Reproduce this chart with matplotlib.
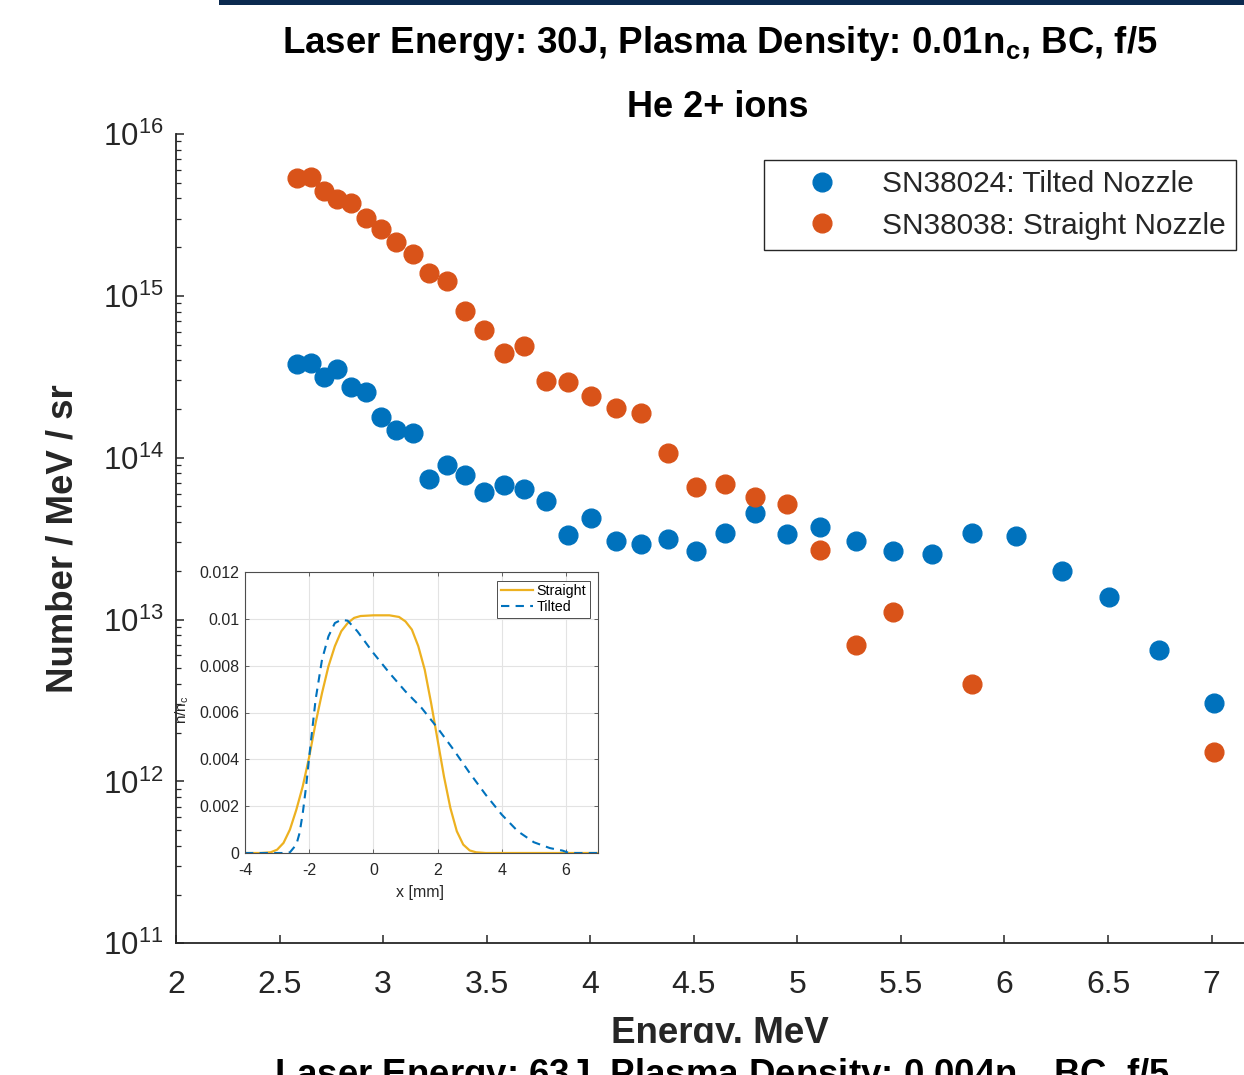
import numpy as np
import matplotlib
matplotlib.use('Agg')
import matplotlib.pyplot as plt
from matplotlib.patches import Rectangle
from matplotlib.ticker import LogLocator, NullFormatter

W, H = 1244, 1075
plt.rcParams['font.family'] = ['Liberation Sans', 'DejaVu Sans']
plt.rcParams['mathtext.fontset'] = 'custom'
plt.rcParams['mathtext.rm'] = 'Liberation Sans'
plt.rcParams['mathtext.it'] = 'Liberation Sans'
plt.rcParams['mathtext.bf'] = 'Liberation Sans:bold'
plt.rcParams['axes.unicode_minus'] = False

# ---------------- data ----------------
energy = [2.584, 2.652, 2.715, 2.777, 2.845, 2.917, 2.990, 3.062, 3.144, 3.222,
          3.309, 3.395, 3.487, 3.584, 3.680, 3.787, 3.893, 4.004, 4.125, 4.245,
          4.376, 4.511, 4.651, 4.796, 4.950, 5.110, 5.284, 5.462, 5.650, 5.844,
          6.056, 6.278, 6.505, 6.746, 7.012]

tilted = [3.78e14, 3.85e14, 3.14e14, 3.55e14, 2.75e14, 2.54e14, 1.78e14, 1.48e14, 1.43e14, 7.36e13,
          9.02e13, 7.79e13, 6.11e13, 6.75e13, 6.43e13, 5.42e13, 3.32e13, 4.26e13, 3.06e13, 2.93e13,
          3.13e13, 2.67e13, 3.41e13, 4.57e13, 3.36e13, 3.72e13, 3.06e13, 2.67e13, 2.54e13, 3.44e13,
          3.28e13, 2.00e13, 1.37e13, 6.46e12, 3.07e12]

straight = [5.33e15, 5.45e15, 4.44e15, 3.95e15, 3.73e15, 3.04e15, 2.58e15, 2.14e15, 1.81e15, 1.38e15,
            1.24e15, 8.09e14, 6.13e14, 4.45e14, 4.90e14, 2.99e14, 2.92e14, 2.40e14, 2.03e14, 1.90e14,
            1.065e14, 6.57e13, 6.85e13, 5.69e13, 5.18e13, 2.69e13, 6.97e12, 1.11e13, np.nan, 4.00e12,
            np.nan, np.nan, np.nan, np.nan, 1.51e12]

series_labels = ['SN38024: Tilted Nozzle', 'SN38038: Straight Nozzle']
x_ticks = [2, 2.5, 3, 3.5, 4, 4.5, 5, 5.5, 6, 6.5, 7]
x_ticklabels = ['2', '2.5', '3', '3.5', '4', '4.5', '5', '5.5', '6', '6.5', '7']

# inset density profiles
prof_x_straight = [-4.0, -3.5, -3.2, -3.0, -2.8, -2.6, -2.4, -2.2, -2.0, -1.8, -1.6, -1.4, -1.2,
                   -1.0, -0.8, -0.6, -0.4, 0.0, 0.5, 0.8, 1.0, 1.2, 1.4, 1.6, 1.8, 2.0, 2.2,
                   2.4, 2.6, 2.8, 3.0, 3.2, 3.5, 7.0]
prof_straight = [0.0, 0.0, 0.00003, 0.00014, 0.00043, 0.0010, 0.00185, 0.00285, 0.0041, 0.00555,
                 0.00683, 0.00797, 0.00883, 0.00947, 0.00982, 0.01004, 0.01012, 0.01015, 0.01015,
                 0.01008, 0.00989, 0.00954, 0.00883, 0.00783, 0.0064, 0.00484, 0.00327, 0.00192,
                 0.00093, 0.00036, 0.00011, 0.00003, 0.0, 0.0]
prof_x_tilted = [-4.0, -2.7, -2.6, -2.4, -2.3, -2.2, -2.1, -2.0, -1.8, -1.6, -1.4, -1.2, -1.0,
                 -0.8, -0.5, 0.0, 0.5, 1.0, 1.5, 2.0, 2.5, 3.0, 3.5, 4.0, 4.5, 5.0, 5.5, 5.9,
                 6.1, 7.0]
prof_tilted = [0.0, 0.0, 0.00003, 0.00036, 0.00085, 0.0017, 0.0028, 0.0041, 0.00655, 0.00826,
               0.00925, 0.00982, 0.00996, 0.00992, 0.00947, 0.00854, 0.00769, 0.0069, 0.0062,
               0.00534, 0.00441, 0.00342, 0.00249, 0.00164, 0.00093, 0.00046, 0.00021, 0.0001,
               0.0, 0.0]
inset_xticks = [-4, -2, 0, 2, 4, 6]
inset_yticks = [0, 0.002, 0.004, 0.006, 0.008, 0.010, 0.012]
inset_yticklabels = ['0', '0.002', '0.004', '0.006', '0.008', '0.01', '0.012']

BLUE = '#0072BD'
ORANGE = '#D95319'
YELLOW = '#EDB120'
AXC = '#262626'


def fx(px):
    return px / W


def fy(py):
    return 1 - py / H


fig = plt.figure(figsize=(W / 100, H / 100), dpi=100)
fig.patch.set_facecolor('white')

# ---------------- main axes ----------------
ax = fig.add_axes([fx(176), fy(943.3), (1253 - 176) / W, (943.3 - 134) / H], zorder=0)
ax.plot(energy, tilted, 'o', color=BLUE, ms=13.5, ls='none', label=series_labels[0])
ax.plot(energy, straight, 'o', color=ORANGE, ms=13.5, ls='none', label=series_labels[1])
ax.set_yscale('log')
ax.set_xlim(2, 7.2)
ax.set_ylim(1e11, 1e16)
ax.set_xticks(x_ticks)
ax.set_xticklabels(x_ticklabels)
ax.yaxis.set_major_locator(LogLocator(base=10, numticks=10))
ax.yaxis.set_minor_locator(LogLocator(base=10, subs=np.arange(2, 10), numticks=20))
ax.yaxis.set_minor_formatter(NullFormatter())
for s in ['top', 'right']:
    ax.spines[s].set_visible(False)
for s in ['left', 'bottom']:
    ax.spines[s].set_color(AXC)
    ax.spines[s].set_linewidth(1.3)
ax.tick_params(axis='both', which='major', direction='in', length=6, width=1.1,
               color=AXC, labelcolor=AXC)
ax.tick_params(axis='x', which='major', pad=19, labelsize=23)
ax.tick_params(axis='y', which='major', pad=9, labelsize=22.5)
ax.tick_params(axis='y', which='minor', direction='in', length=3.5, width=0.9, color=AXC)
ax.tick_params(axis='x', which='minor', bottom=False)

ax.set_xlabel('Energy, MeV', fontsize=26.5, fontweight='bold', color=AXC, va='baseline')
ax.xaxis.set_label_coords(fx(720), fy(1043), transform=fig.transFigure)
ax.set_ylabel('Number / MeV / sr', fontsize=26.4, fontweight='bold', color=AXC, va='center')
ax.yaxis.set_label_coords(fx(63), fy(539), transform=fig.transFigure)

leg = ax.legend(loc='upper right', bbox_to_anchor=(fx(1236), fy(160)),
                bbox_transform=fig.transFigure, fontsize=21.5, frameon=True,
                fancybox=False, edgecolor=AXC, framealpha=1, borderaxespad=0,
                handlelength=3.2, handletextpad=0.4, labelspacing=0.45, borderpad=0.35)
leg.get_frame().set_linewidth(1.0)
for t in leg.get_texts():
    t.set_color(AXC)

# ---------------- inset axes ----------------
axi = fig.add_axes([fx(245), fy(853), (598 - 245) / W, (853 - 572) / H], zorder=3)
axi.set_facecolor('white')
axi.plot(prof_x_straight, prof_straight, color=YELLOW, lw=1.6, label='Straight')
axi.plot(prof_x_tilted, prof_tilted, color=BLUE, lw=1.5, ls=(0, (4, 3)), label='Tilted')
axi.set_xlim(-4, 7)
axi.set_ylim(0, 0.012)
axi.set_xticks(inset_xticks)
axi.set_yticks(inset_yticks)
axi.set_yticklabels(inset_yticklabels)
axi.grid(True, color='#e3e3e3', lw=0.8)
axi.set_axisbelow(True)
for s in axi.spines.values():
    s.set_color('#4d4d4d')
    s.set_linewidth(0.8)
axi.tick_params(direction='in', length=3, width=0.6, color='#4d4d4d', labelcolor=AXC,
                labelsize=11.5, top=True, right=True)
axi.tick_params(axis='x', pad=7)
axi.tick_params(axis='y', pad=4)
axi.set_xlabel('x [mm]', fontsize=11.5, color=AXC, va='center')
axi.xaxis.set_label_coords(fx(420), fy(892), transform=fig.transFigure)
axi.set_ylabel('n/n$_\\mathregular{c}$', fontsize=11, color=AXC, va='center')
axi.yaxis.set_label_coords(fx(182), fy(710), transform=fig.transFigure)
ileg = axi.legend(loc='upper right', bbox_to_anchor=(fx(589.5), fy(580.5)),
                  bbox_transform=fig.transFigure, fontsize=10.3, frameon=True,
                  fancybox=False, edgecolor='#4d4d4d', framealpha=1, borderaxespad=0,
                  handlelength=2.3, handletextpad=0.2, labelspacing=0.15, borderpad=0.25)
ileg.get_frame().set_linewidth(0.7)

# ---------------- slide decorations ----------------
fig.add_artist(Rectangle((fx(219), fy(5)), (W - 219) / W, 5 / H, transform=fig.transFigure,
                         facecolor='#0b2a4f', edgecolor='none', zorder=10))

fig.text(fx(720), fy(53), 'Laser Energy: 30J, Plasma Density: 0.01n$_\\mathbf{c}$, BC, f/5',
         ha='center', va='baseline', fontsize=26.4, fontweight='bold', color='black')
fig.text(fx(718), fy(117), 'He 2+ ions', ha='center', va='baseline', fontsize=26,
         fontweight='bold', color='black')

# next slide figure overlapping at the bottom
fig.add_artist(Rectangle((0, 0), 1, (H - 1043) / H, transform=fig.transFigure,
                         facecolor='white', edgecolor='none', zorder=10))
fig.text(fx(722), fy(1085), 'Laser Energy: 63J, Plasma Density: 0.004n$_\\mathbf{c}$, BC, f/5',
         ha='center', va='baseline', fontsize=26.4, fontweight='bold', color='black', zorder=11)

fig.savefig('out.png', dpi=100)
